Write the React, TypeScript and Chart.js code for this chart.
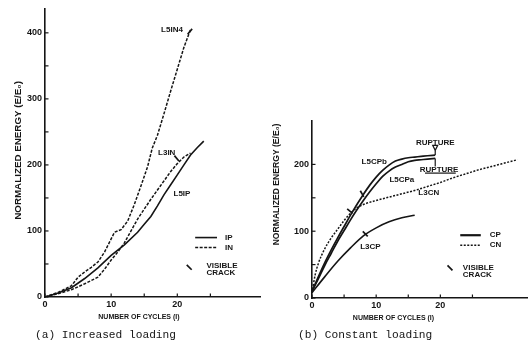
import React, { useEffect, useRef } from "react";
import { Chart, registerables } from "chart.js";
Chart.register(...registerables);

// ---------- (a) Increased loading ----------
const L5IN4_CYCLES = [0, 2, 4, 5, 6, 7, 8, 9, 10, 10.5, 11.5, 12.5, 13.5, 14.5, 15.5, 16.2, 17, 18, 19, 20, 21, 22];
const L5IN4_ENERGY = [0, 7, 17, 30, 38, 45, 53, 68, 88, 98, 102, 115, 140, 168, 197, 225, 245, 278, 312, 345, 378, 405];
const L3IN_CYCLES = [0, 2, 4, 6, 8, 9, 10, 11, 12, 13, 14, 15, 16, 17, 18, 19, 20, 21, 22];
const L3IN_ENERGY = [0, 5, 11, 20, 30, 42, 56, 68, 82, 100, 118, 133, 148, 162, 176, 190, 202, 212, 218];
const L5IP_CYCLES = [0, 2, 4, 6, 8, 10, 12, 14, 15, 16, 17, 18, 19, 20, 21, 22, 23, 24];
const L5IP_ENERGY = [0, 6, 14, 28, 44, 63, 79, 98, 110, 122, 138, 155, 170, 185, 200, 215, 226, 236];

// ---------- (b) Constant loading ----------
const L5CPB_CYCLES = [0, 1, 2, 3, 4, 5, 6, 7, 8, 9, 10, 11, 12, 13, 14, 15, 16, 17, 18, 19.2];
const L5CPB_ENERGY = [10, 32, 53, 72, 90, 107, 124, 140, 155, 169, 181, 191, 199, 205, 208, 210, 211, 212, 213, 214];
const L5CPA_CYCLES = [0, 1, 2, 3, 4, 5, 6, 7, 8, 9, 10, 11, 12, 13, 14, 15, 16, 17, 18, 19.2];
const L5CPA_ENERGY = [10, 29, 49, 67, 85, 101, 117, 132, 146, 159, 171, 182, 190, 196, 200, 204, 206, 207, 208, 209];
const L3CN_CYCLES = [0, 0.5, 1, 2, 3, 4, 5, 6, 7, 8, 10, 12, 14, 16, 18, 20, 22, 24, 26, 28, 30, 32];
const L3CN_ENERGY = [8, 35, 52, 74, 90, 103, 116, 127, 135, 140, 146, 151, 156, 161, 167, 173, 180, 186, 192, 197, 202, 207];
const L3CP_CYCLES = [0, 2, 4, 6, 8, 10, 12, 14, 16];
const L3CP_ENERGY = [8, 32, 55, 75, 93, 105, 114, 120, 124];

// ---------- texts ----------
const X_TITLE = "NUMBER OF CYCLES (I)";
const Y_TITLE = "NORMALIZED ENERGY (E/E\u2080)";
const CAPTION_A = "(a) Increased loading";
const CAPTION_B = "(b) Constant loading";

const INK = "#151515";
const FONT = '"Liberation Sans", Arial, sans-serif';

const pts = (xs: number[], ys: number[]) => xs.map((x, i) => ({ x, y: ys[i] }));

function line(ctx: CanvasRenderingContext2D, x1: number, y1: number, x2: number, y2: number) {
  ctx.beginPath();
  ctx.moveTo(x1, y1);
  ctx.lineTo(x2, y2);
  ctx.stroke();
}

function makeNotes(cfg: any) {
  return {
    id: "notes_" + cfg.id,
    afterDraw(chart: any) {
      const ctx: CanvasRenderingContext2D = chart.ctx;
      const a = chart.chartArea;
      const sx = chart.scales.x;
      const sy = chart.scales.y;
      const X = (v: number) => sx.getPixelForValue(v);
      const Y = (v: number) => sy.getPixelForValue(v);
      ctx.save();
      ctx.strokeStyle = INK;
      ctx.fillStyle = INK;
      // inward tick marks
      ctx.lineWidth = 1.2;
      sx.ticks.forEach((t: any) => {
        const x = X(t.value);
        line(ctx, x, a.bottom, x, a.bottom - 3.5);
      });
      sy.ticks.forEach((t: any) => {
        const y = Y(t.value);
        line(ctx, a.left, y, a.left + 3.5, y);
      });
      // curve labels & legend texts
      ctx.font = `bold 8px ${FONT}`;
      ctx.textBaseline = "middle";
      cfg.labels.forEach((l: any) => {
        ctx.textAlign = l.align || "center";
        ctx.fillText(l.text, X(l.x), Y(l.y));
      });
      // legend keys
      cfg.keys.forEach((k: any) => {
        ctx.lineWidth = k.width;
        ctx.setLineDash(k.dash || []);
        line(ctx, X(k.x1), Y(k.y), X(k.x2), Y(k.y));
      });
      ctx.setLineDash([]);
      // visible crack marks
      ctx.lineWidth = 1.7;
      cfg.cracks.forEach((c: any) => {
        const cx = X(c.x);
        const cy = Y(c.y);
        const r = (c.deg * Math.PI) / 180;
        const dx = Math.cos(r) * 3.5;
        const dy = Math.sin(r) * 3.5;
        line(ctx, cx - dx, cy - dy, cx + dx, cy + dy);
      });
      if (cfg.extra) cfg.extra(ctx, X, Y);
      // axis titles
      ctx.textAlign = "center";
      ctx.font = `bold 7px ${FONT}`;
      ctx.fillText(X_TITLE, X(cfg.xTitleAt), a.bottom + 20);
      ctx.save();
      ctx.translate(a.left + cfg.yTitleOffset, Y(cfg.yTitleAt));
      ctx.rotate(-Math.PI / 2);
      ctx.font = `bold ${cfg.yTitleSize}px ${FONT}`;
      ctx.fillText(Y_TITLE, 0, 0);
      ctx.restore();
      ctx.restore();
    },
  };
}

function makeConfig(series: any[], p: any, notes: any) {
  const tickFont = { family: FONT, size: 9, weight: "bold" as const };
  return {
    type: "line" as const,
    data: {
      datasets: series.map((s) => ({
        data: s.data,
        borderColor: INK,
        borderWidth: s.width,
        borderDash: s.dash || [],
        pointRadius: 0,
        tension: s.smooth ? 0.35 : 0,
        cubicInterpolationMode: s.smooth ? ("monotone" as const) : ("default" as const),
        fill: false,
      })),
    },
    options: {
      animation: false as const,
      responsive: false,
      maintainAspectRatio: false,
      devicePixelRatio: 1,
      layout: { padding: { top: p.top, right: p.right, left: 0, bottom: 0 } },
      plugins: { legend: { display: false }, tooltip: { enabled: false } },
      scales: {
        x: {
          type: "linear" as const,
          min: 0,
          max: p.xMax,
          afterBuildTicks: (s: any) => {
            s.ticks = s.ticks.filter((t: any) => t.value % 5 === 0);
          },
          afterFit: (s: any) => {
            s.height = p.xHeight;
          },
          grid: { display: false, drawTicks: false },
          border: { display: true, color: INK, width: 1.6 },
          ticks: {
            stepSize: 5,
            autoSkip: false,
            maxRotation: 0,
            padding: 2,
            color: INK,
            font: tickFont,
            callback: (v: any) => (v % 10 === 0 ? String(v) : ""),
          },
        },
        y: {
          type: "linear" as const,
          min: 0,
          max: p.yMax,
          afterBuildTicks: (s: any) => {
            s.ticks = s.ticks.filter((t: any) => t.value % 50 === 0);
          },
          afterFit: (s: any) => {
            s.width = p.yWidth;
          },
          grid: { display: false, drawTicks: false },
          border: { display: true, color: INK, width: 1.6 },
          ticks: {
            stepSize: 50,
            autoSkip: false,
            padding: 3,
            color: INK,
            font: tickFont,
            callback: (v: any) => (v % 100 === 0 ? String(v) : ""),
          },
        },
      },
    },
    plugins: [makeNotes(notes)],
  };
}

const notesA = {
  id: "a",
  xTitleAt: 14.2,
  yTitleAt: 222,
  yTitleOffset: -27,
  yTitleSize: 9.8,
  labels: [
    { text: "L5IN4", x: 19.2, y: 404 },
    { text: "L3IN", x: 18.4, y: 218 },
    { text: "L5IP", x: 20.7, y: 156 },
    { text: "IP", x: 27.2, y: 90, align: "left" },
    { text: "IN", x: 27.2, y: 75, align: "left" },
    { text: "VISIBLE", x: 24.4, y: 48, align: "left" },
    { text: "CRACK", x: 24.4, y: 36, align: "left" },
  ],
  keys: [
    { x1: 22.7, x2: 26.0, y: 90, width: 1.6 },
    { x1: 22.7, x2: 26.0, y: 75, width: 1.6, dash: [3, 1.5] },
  ],
  cracks: [
    { x: 21.8, y: 45, deg: 45 },
    { x: 19.9, y: 210, deg: 50 },
    { x: 21.9, y: 402, deg: -50 },
  ],
};

const notesB = {
  id: "b",
  xTitleAt: 12.7,
  yTitleAt: 170,
  yTitleOffset: -35,
  yTitleSize: 8.6,
  labels: [
    { text: "RUPTURE", x: 19.2, y: 232 },
    { text: "RUPTURE", x: 19.8, y: 192 },
    { text: "L5CPb", x: 9.7, y: 204 },
    { text: "L5CPa", x: 14.0, y: 177 },
    { text: "L3CN", x: 18.2, y: 157 },
    { text: "L3CP", x: 9.1, y: 76 },
    { text: "CP", x: 27.7, y: 94, align: "left" },
    { text: "CN", x: 27.7, y: 79, align: "left" },
    { text: "VISIBLE", x: 23.5, y: 45, align: "left" },
    { text: "CRACK", x: 23.5, y: 34, align: "left" },
  ],
  keys: [
    { x1: 23.1, x2: 26.3, y: 94, width: 2.2 },
    { x1: 23.1, x2: 26.3, y: 79, width: 1.5, dash: [2, 1.5] },
  ],
  cracks: [
    { x: 21.5, y: 45, deg: 45 },
    { x: 5.9, y: 130, deg: 40 },
    { x: 7.8, y: 156, deg: 60 },
    { x: 8.3, y: 96, deg: 45 },
  ],
  extra: (ctx: CanvasRenderingContext2D, X: any, Y: any) => {
    const x = X(19.2);
    const ty = Y(224);
    ctx.lineWidth = 1.2;
    ctx.beginPath();
    ctx.moveTo(x - 2.5, ty - 3);
    ctx.lineTo(x + 2.5, ty - 3);
    ctx.lineTo(x, ty + 2);
    ctx.closePath();
    ctx.stroke();
    line(ctx, x, ty + 2, x, Y(214));
    line(ctx, x, Y(209), x, Y(197));
    line(ctx, X(17.6), Y(187), X(22.4), Y(187));
  },
};

export default function App() {
  const refA = useRef<HTMLCanvasElement | null>(null);
  const refB = useRef<HTMLCanvasElement | null>(null);

  useEffect(() => {
    const chartA = new Chart(
      refA.current as HTMLCanvasElement,
      makeConfig(
        [
          { data: pts(L5IN4_CYCLES, L5IN4_ENERGY), width: 1.5, dash: [3, 1.5] },
          { data: pts(L3IN_CYCLES, L3IN_ENERGY), width: 1.5, dash: [3, 1.5] },
          { data: pts(L5IP_CYCLES, L5IP_ENERGY), width: 1.6 },
        ],
        { top: 7, right: 5, xMax: 32.5, yMax: 437, xHeight: 55, yWidth: 45 },
        notesA
      ) as any
    );
    const chartB = new Chart(
      refB.current as HTMLCanvasElement,
      makeConfig(
        [
          { data: pts(L5CPB_CYCLES, L5CPB_ENERGY), width: 1.7, smooth: true },
          { data: pts(L5CPA_CYCLES, L5CPA_ENERGY), width: 1.7, smooth: true },
          { data: pts(L3CN_CYCLES, L3CN_ENERGY), width: 1.5, dash: [2, 1.5], smooth: true },
          { data: pts(L3CP_CYCLES, L3CP_ENERGY), width: 1.6, smooth: true },
        ],
        { top: 121, right: 4, xMax: 33.5, yMax: 265, xHeight: 54, yWidth: 47 },
        notesB
      ) as any
    );
    return () => {
      chartA.destroy();
      chartB.destroy();
    };
  }, []);

  const caption: React.CSSProperties = {
    position: "absolute",
    top: 327,
    fontFamily: '"Liberation Mono", "DejaVu Sans Mono", monospace',
    fontSize: 11.2,
    color: INK,
    whiteSpace: "pre",
    lineHeight: "16px",
  };

  return (
    <div style={{ position: "absolute", left: 0, top: 0, width: 531, height: 352, background: "#fff", overflow: "hidden" }}>
      <canvas ref={refA} width={265} height={352} style={{ position: "absolute", left: 0, top: 0, width: 265, height: 352 }} />
      <canvas ref={refB} width={266} height={352} style={{ position: "absolute", left: 265, top: 0, width: 266, height: 352 }} />
      <div style={{ ...caption, left: 35 }}>{CAPTION_A}</div>
      <div style={{ ...caption, left: 298 }}>{CAPTION_B}</div>
    </div>
  );
}
